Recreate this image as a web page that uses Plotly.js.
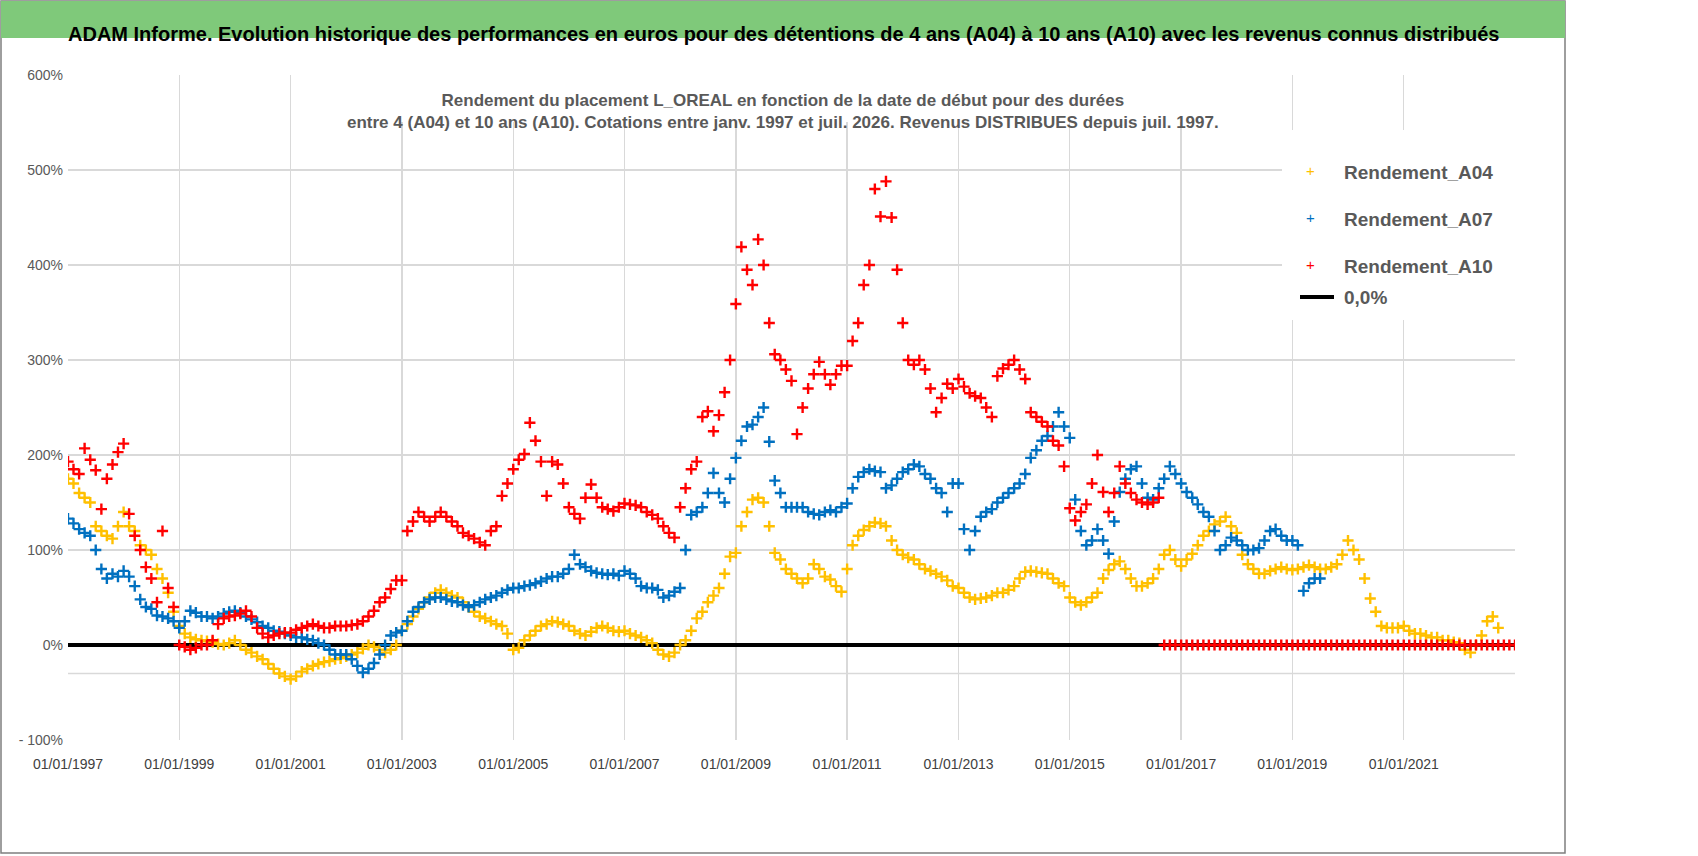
<!DOCTYPE html>
<html>
<head>
<meta charset="utf-8">
<script src="https://cdn.plot.ly/plotly-3.0.1.min.js"></script>
<style>body{margin:0;background:#fff}#chart{width:1698px;height:856px}</style>
</head>
<body>
<div id="chart"></div>
<script>
// returns in %, one value every 0.1 year starting 01/01/1997 (one row per year)
var startYear = 1997;
var stepYear = 0.1;
var valuesA04 = [
	175,170,160,155,150,125,120,115,112,125,
	140,125,120,105,100,95,80,70,55,35,
	20,12,8,6,5,4,3,1,0,2,
	5,0,-5,-8,-12,-15,-20,-25,-30,-33,
	-36,-33,-28,-25,-22,-20,-18,-17,-15,-14,
	-12,-10,-8,-4,0,-2,-5,-8,-5,0,
	15,22,30,38,45,50,55,58,55,52,
	50,45,40,35,30,28,25,22,20,12,
	-5,-3,5,10,15,20,22,25,24,22,
	20,15,12,10,14,18,20,18,15,14,
	15,12,10,8,5,2,-5,-10,-12,-8,
	0,5,15,28,35,45,52,60,75,93,
	97,125,140,153,155,150,125,97,90,80,
	75,70,65,70,85,80,72,69,62,56,
	80,105,115,121,125,129,128,125,110,100,
	95,92,90,85,80,78,75,72,68,62,
	60,55,50,48,49,50,52,55,55,58,
	62,70,77,78,77,76,75,70,65,62,
	50,45,42,45,50,55,70,79,85,88,
	80,70,62,62,65,70,80,95,100,90,
	83,90,96,105,115,120,127,130,135,125,
	118,95,85,80,75,75,78,80,82,80,
	79,80,82,84,82,80,80,82,85,95,
	110,100,90,70,49,35,20,18,18,18,
	20,15,12,12,10,8,8,5,5,3,
	2,-5,-8,0,10,25,30,18];
var valuesA07 = [
	133,128,122,118,115,100,80,70,75,72,
	78,72,62,48,40,38,31,30,28,25,
	18,25,36,34,30,30,28,30,33,35,
	36,34,30,27,24,20,18,15,14,12,
	10,8,8,6,5,2,0,-5,-10,-10,
	-10,-15,-22,-29,-25,-19,-10,0,10,13,
	15,25,35,40,45,48,50,50,48,46,
	45,42,40,42,45,48,50,52,55,58,
	60,60,62,63,65,67,70,72,72,75,
	80,95,85,82,78,76,75,74,75,73,
	78,75,70,62,60,60,58,50,52,56,
	60,100,137,140,145,160,181,160,150,175,
	197,215,230,232,240,250,214,173,160,145,
	145,145,145,140,138,137,140,142,140,145,
	149,165,177,182,185,183,182,165,168,175,
	182,185,190,188,180,175,165,160,140,170,
	170,122,100,120,135,140,143,150,155,160,
	165,170,180,197,205,215,220,230,245,230,
	218,153,120,105,110,122,110,96,130,161,
	175,185,188,170,155,153,165,175,188,180,
	170,161,155,148,140,135,120,100,105,113,
	110,105,100,100,102,110,120,122,115,110,
	110,105,57,65,70,70];
var valuesA10 = [
	193,185,180,207,195,184,143,175,190,203,
	212,138,115,100,82,70,45,120,60,40,
	0,-2,-5,-3,0,0,5,22,28,30,
	31,33,36,30,18,12,8,10,12,13,
	13,16,18,20,22,20,18,18,20,20,
	20,21,22,25,30,36,45,50,59,68,
	68,120,130,140,135,130,135,140,135,130,
	125,118,115,112,108,105,120,125,157,170,
	185,195,201,234,215,193,157,193,190,170,
	145,138,133,155,169,155,145,143,141,145,
	149,148,147,145,140,137,133,125,118,113,
	145,165,185,193,240,246,225,242,266,300,
	359,419,395,379,427,400,339,306,300,290,
	278,222,250,270,285,298,285,274,285,294,
	294,320,339,379,400,480,451,488,450,395,
	339,300,295,300,290,270,245,260,275,270,
	280,272,265,262,260,250,240,283,291,295,
	300,290,280,245,240,235,230,215,210,188,
	144,131,140,148,170,200,161,140,160,188,
	170,160,153,150,148,150,155];
// A10 after mid-2016: no 10-year window yet, plotted at 0 (from 2016.7, every 0.1 year)
var tailStartA10 = 2016.7;
var tailA10 = [
	0,0,0,0,0,0,0,0,0,0,0,0,0,0,0,0,0,0,0,0,
	0,0,0,0,0,0,0,0,0,0,0,0,0,0,0,0,0,0,0,0,
	0,0,0,0,0,0,0,0,0,0,0,0,0,0,0,0,0,0,0,0,
	0,0,0,0];

var tickYears = [1997,1999,2001,2003,2005,2007,2009,2011,2013,2015,2017,2019,2021];
var yTicks = [-100,0,100,200,300,400,500,600];
var yTickText = ['- 100%','0%','100%','200%','300%','400%','500%','600%'];
var seriesNames = ['Rendement_A04','Rendement_A07','Rendement_A10'];
var seriesColors = ['#FFC000','#0070C0','#FF0000'];

function toDate(y)
{
	var yr = Math.floor(y + 1e-9);
	var ms = Date.UTC(yr,0,1) + (y - yr) * 365.25 * 86400000;
	return new Date(ms).toISOString().slice(0,10);
}

function datesFor(start, values)
{
	var d = [];
	for (var i = 0; i < values.length; i++) {
		d.push(toDate(start + i * stepYear));
	}
	return d;
}

function crosses(x, y, color, name)
{
	return {
		x: x, y: y, mode: 'markers', name: name, showlegend: false,
		marker: {symbol: 'cross-thin-open', size: 8, color: color, line: {color: color, width: 2.4}}
	};
}

var traces = [{
	x: ['1997-01-01','2023-01-01'], y: [0,0], mode: 'lines',
	line: {color: '#000', width: 4}, showlegend: false
}];
traces.push(crosses(datesFor(startYear, valuesA04), valuesA04, seriesColors[0], seriesNames[0]));
traces.push(crosses(datesFor(startYear, valuesA07), valuesA07, seriesColors[1], seriesNames[1]));
traces.push(crosses(datesFor(startYear, valuesA10), valuesA10, seriesColors[2], seriesNames[2]));
traces.push(crosses(datesFor(tailStartA10, tailA10), tailA10, seriesColors[2], seriesNames[2]));

// px -> paper
var L = 68, R = 1515, T = 75, B = 740;
function px(X) { return (X - L) / (R - L); }
function py(Y) { return (B - Y) / (B - T); }

var shapes = [
	{type:'rect', xref:'paper', yref:'paper', x0:px(1), x1:px(1565), y0:py(1), y1:py(853), line:{color:'#7f7f7f', width:1.5}, fillcolor:'rgba(0,0,0,0)', layer:'above'},
	{type:'rect', xref:'paper', yref:'paper', x0:px(1), x1:px(1565), y0:py(38), y1:py(1), line:{width:0}, fillcolor:'#7FC97A'},
	{type:'rect', xref:'paper', yref:'paper', x0:px(325), x1:px(1245), y0:py(122), y1:py(58), line:{width:0}, fillcolor:'#fff', layer:'above'},
	{type:'rect', xref:'paper', yref:'paper', x0:px(1282), x1:px(1515), y0:py(320), y1:py(130), line:{width:0}, fillcolor:'#fff', layer:'above'},
	{type:'line', xref:'paper', yref:'y', x0:0, x1:1, y0:-30, y1:-30, line:{color:'#d9d9d9', width:1.3}, layer:'below'},
	{type:'line', xref:'paper', yref:'paper', x0:px(1300), x1:px(1334), y0:py(297), y1:py(297), line:{color:'#000', width:4}, layer:'above'}
];

var annotations = [
	{xref:'paper', yref:'paper', x:px(783), y:py(21), text:'<b>ADAM Informe. Evolution historique des performances en euros pour des détentions de 4 ans (A04) à 10 ans (A10) avec les revenus connus distribués</b>', showarrow:false, font:{family:'Liberation Sans', size:20, color:'#000'}},
	{xref:'paper', yref:'paper', x:px(783), y:py(89), text:'<b>Rendement du placement L_OREAL en fonction de la date de début pour des durées<br>entre 4 (A04) et 10 ans (A10). Cotations entre janv. 1997 et juil. 2026. Revenus DISTRIBUES depuis juil. 1997.</b>', showarrow:false, font:{family:'Liberation Sans', size:17, color:'#595959'}, align:'center'}
];
var legendY = [160, 207, 254, 297];
var legendLabels = seriesNames.concat(['0,0%']);
for (var k = 0; k < 4; k++) {
	if (k < 3) {
		annotations.push({xref:'paper', yref:'paper', x:px(1317), y:py(legendY[k]), text:'+', showarrow:false, font:{family:'Liberation Sans', size:15, color:seriesColors[k]}});
	}
	annotations.push({xref:'paper', yref:'paper', x:px(1342), y:py(legendY[k]), xanchor:'left', text:'<b>' + legendLabels[k] + '</b>', showarrow:false, font:{family:'Liberation Sans', size:19, color:'#595959'}});
}

var layout = {
	width: 1698, height: 856,
	margin: {l: L, r: 1698 - R, t: T, b: 856 - B},
	paper_bgcolor: '#fff', plot_bgcolor: '#fff',
	showlegend: false,
	xaxis: {
		type: 'date', range: ['1997-01-01','2023-01-01'],
		tickvals: tickYears.map(function(y){ return y + '-01-01'; }),
		ticktext: tickYears.map(function(y){ return '01/01/' + y; }),
		tickfont: {family:'Liberation Sans', size:14, color:'#404040'},
		ticklabelstandoff: 14,
		showgrid: true, gridcolor: '#d9d9d9', gridwidth: 1.3, zeroline: false,
		showline: false, ticks: ''
	},
	yaxis: {
		range: [-100, 600], tickvals: yTicks, ticktext: yTickText,
		tickfont: {family:'Liberation Sans', size:14, color:'#595959'},
		ticklabelstandoff: 4,
		showgrid: true, gridcolor: '#d9d9d9', gridwidth: 1.3, zeroline: false, ticks: ''
	},
	shapes: shapes,
	annotations: annotations
};

Plotly.newPlot('chart', traces, layout, {displayModeBar: false, staticPlot: true});
</script>
</body>
</html>
